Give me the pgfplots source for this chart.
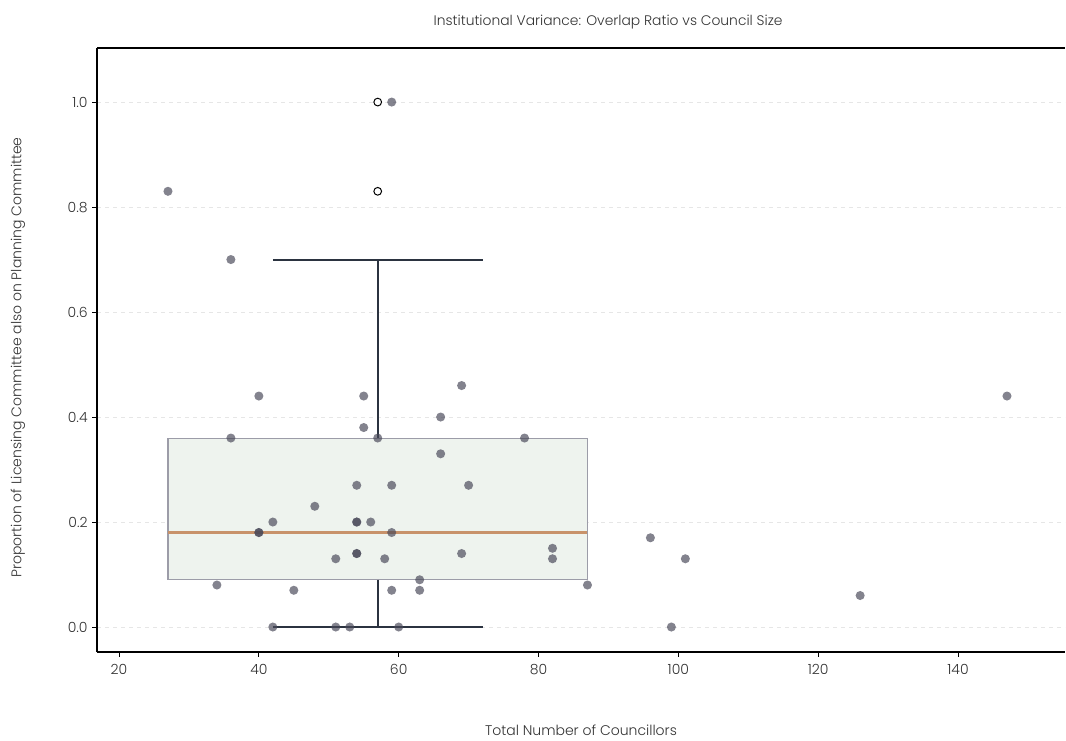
\documentclass[border=0pt]{standalone}
\usepackage{fontspec}
\setmainfont{Poppins}[UprightFont=* Light]
\usepackage{pgfplots}
\pgfplotsset{compat=1.18}
\definecolor{txt}{HTML}{333333}
\definecolor{ptc}{RGB}{72,72,88}
\definecolor{boxfill}{HTML}{EEF3EE}
\definecolor{boxedge}{HTML}{9C9CA8}
\definecolor{med}{HTML}{C8926A}
\definecolor{whisk}{HTML}{2B3340}
\definecolor{gridc}{HTML}{E6E6E6}
\pgfplotstableread{
x y
27 0.83
36 0.70
36 0.36
34 0.08
40 0.44
40 0.18
40 0.18
42 0.20
42 0.00
45 0.07
48 0.23
51 0.13
51 0.00
53 0.00
54 0.27
54 0.20
54 0.20
54 0.14
54 0.14
55 0.44
55 0.38
56 0.20
57 0.36
58 0.13
59 0.27
59 0.18
59 0.07
59 1.00
60 0.00
63 0.09
63 0.07
66 0.40
66 0.33
69 0.46
69 0.14
70 0.27
78 0.36
82 0.15
82 0.13
87 0.08
96 0.17
99 0.00
101 0.13
126 0.06
147 0.44
}\pts
\begin{document}
\begin{tikzpicture}
\begin{axis}[
  width=726pt, height=453pt, scale only axis,
  xmin=16.85, xmax=155.3, ymin=-0.0476, ymax=1.103,
  axis x line*=bottom, axis y line*=left,
  axis line style={-, black, line width=0.8pt},
  tick align=outside, major tick length=3.5pt,
  tick style={black, line width=0.7pt},
  xtick={20,40,...,140}, ytick={0,0.2,0.4,0.6,0.8,1.0},
  ymajorgrids, major grid style={gridc, dashed, line width=0.5pt},
  /pgf/number format/assume math mode=true,
  y tick label style={/pgf/number format/.cd, fixed, fixed zerofill, precision=1},
  tick label style={font=\fontsize{10.5pt}{12pt}\selectfont, text=txt},
  xticklabel style={yshift=-2pt},
  title={Institutional Variance: Overlap Ratio vs Council Size},
  title style={at={(axis description cs:0.528,1)}, anchor=center, yshift=13.5pt, font=\fontsize{10.4pt}{12pt}\selectfont, text=txt},
  xlabel={Total Number of Councillors},
  xlabel style={at={(axis description cs:0.5,0)}, anchor=center, yshift=-59pt, font=\fontsize{10.5pt}{12pt}\selectfont, text=txt},
  ylabel={Proportion of Licensing Committee also on Planning Committee},
  ylabel style={at={(axis description cs:0,0.4876)}, anchor=center, yshift=59.25pt, font=\fontsize{10.5pt}{12pt}\selectfont, text=txt},
]
\coordinate (sw) at (rel axis cs:0,0);
\coordinate (ne) at (rel axis cs:1,1);
% box
\addplot[draw=boxedge, fill=boxfill, line width=0.8pt] coordinates {(27,0.09) (87,0.09) (87,0.36) (27,0.36)} --cycle;
% median
\addplot[med, line width=1.6pt] coordinates {(27,0.18) (87,0.18)};
% whiskers
\addplot[whisk, line width=1.5pt] coordinates {(57,0.36) (57,0.70)};
\addplot[whisk, line width=1.5pt] coordinates {(57,0.09) (57,0.0)};
\addplot[whisk, line width=1.5pt] coordinates {(42,0.70) (72,0.70)};
\addplot[whisk, line width=1.5pt] coordinates {(42,0.0) (72,0.0)};
% outliers
\addplot[only marks, mark=*, mark size=2.9pt, mark options={draw=black, fill=white, line width=0.75pt}] coordinates {(57,0.83) (57,1.0)};
% points
\addplot[only marks, color=ptc, mark=*, mark size=3.4pt, mark options={draw=ptc, draw opacity=0, fill=ptc, fill opacity=0.68}] table[x=x,y=y]{\pts};
\end{axis}
\draw[black, line width=0.8pt] (sw |- ne) -- (ne);
\pgfresetboundingbox
\path ([xshift=-72.75pt,yshift=-66pt]sw) rectangle ([xshift=0.75pt,yshift=36pt]ne);
\end{tikzpicture}
\end{document}
